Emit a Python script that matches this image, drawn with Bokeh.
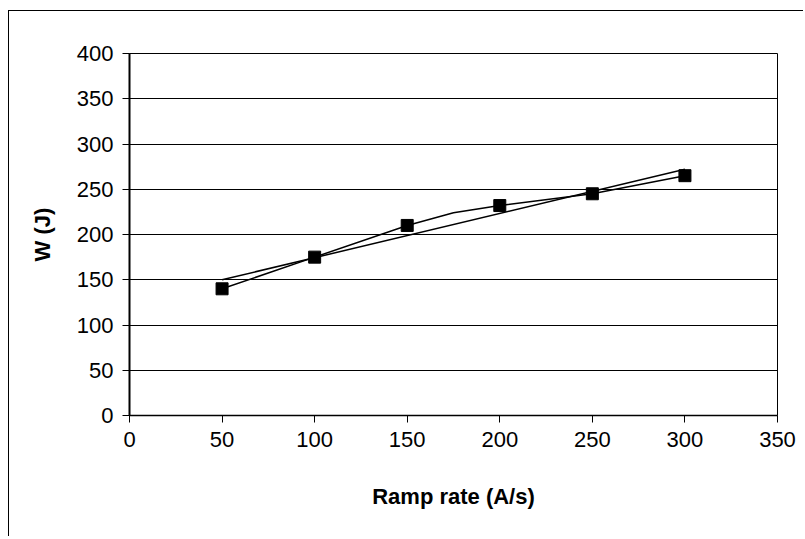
from bokeh.plotting import figure
from bokeh.models import Range1d, FixedTicker
from bokeh.embed import file_html
from bokeh.resources import INLINE

# Data
ramp_rate = [50, 100, 150, 200, 250, 300]
work_j = [140, 175, 210, 232, 245, 265]

# connecting line (has an extra vertex near 175 A/s)
line_x = [50, 100, 150, 175, 200, 250, 300]
line_y = [140, 175, 210, 224, 232, 245, 265]

# linear trend line end points
trend_x = [50, 300]
trend_y = [150, 272]

x_ticks = [0, 50, 100, 150, 200, 250, 300, 350]
y_ticks = [0, 50, 100, 150, 200, 250, 300, 350, 400]

FONT = "Liberation Sans"

W, H = 795, 526
p = figure(width=W, height=H, output_backend="svg", toolbar_location=None,
           x_range=Range1d(0, 350), y_range=Range1d(0, 400),
           min_border_left=120, min_border_right=W - 768,
           min_border_top=42, min_border_bottom=H - 404)
p.styles = {"border-left": "1px solid black", "border-top": "1px solid black",
            "margin-top": "10px", "margin-left": "8px"}

p.outline_line_color = "black"
p.outline_line_width = 1
p.background_fill_color = "white"
p.border_fill_color = "white"

p.xgrid.grid_line_color = None
p.ygrid.grid_line_color = "black"
p.ygrid.grid_line_width = 1
p.ygrid.ticker = FixedTicker(ticks=y_ticks)

for ax, ticks in ((p.xaxis, x_ticks), (p.yaxis, y_ticks)):
    ax.ticker = FixedTicker(ticks=ticks)
    ax.minor_tick_line_color = None
    ax.major_tick_in = 0
    ax.major_tick_out = 7
    ax.major_tick_line_color = "black"
    ax.axis_line_color = "black"
    ax.major_label_text_font = FONT
    ax.major_label_text_font_size = "22px"
    ax.major_label_text_color = "black"
    ax.axis_label_text_font = FONT
    ax.axis_label_text_font_size = "22px"
    ax.axis_label_text_font_style = "bold"
    ax.axis_label_text_color = "black"

p.yaxis.axis_line_width = 2
p.xaxis.axis_line_width = 1.5
p.yaxis.major_label_standoff = 9
p.xaxis.major_label_standoff = 9
p.xaxis.axis_label = "Ramp rate (A/s)"
p.yaxis.axis_label = "W (J)"
p.xaxis.axis_label_standoff = 34
p.yaxis.axis_label_standoff = 19

p.line(trend_x, trend_y, line_color="black", line_width=1.5)
p.line(line_x, line_y, line_color="black", line_width=1.5)
p.scatter(ramp_rate, work_j, marker="square", size=12,
          fill_color="black", line_color="black")

open("out.html", "w").write(file_html(p, INLINE))
